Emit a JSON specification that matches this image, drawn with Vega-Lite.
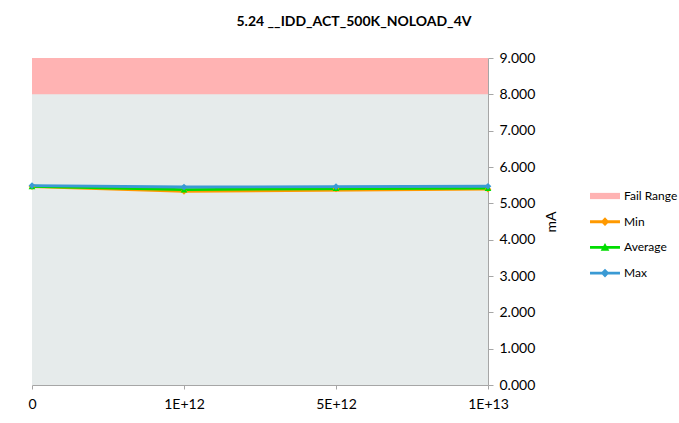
{
  "$schema": "https://vega.github.io/schema/vega-lite/v6.json",
  "autosize": "none",
  "width": 456,
  "height": 327,
  "padding": {"left": 32, "top": 58, "right": 191, "bottom": 38},
  "background": "white",
  "config": {
    "view": {"fill": "#E6EBEB", "stroke": null},
    "font": "Lato",
    "axis": {"labelFont": "Lato", "titleFont": "Lato", "labelColor": "#000", "titleColor": "#000", "domainColor": "#A6A6A6", "tickColor": "#A6A6A6", "grid": false},
    "legend": {"labelFont": "Lato", "labelColor": "#000", "labelFontSize": 12}
  },
  "title": {"text": "5.24 __IDD_ACT_500K_NOLOAD_4V", "fontSize": 14, "fontWeight": "bold", "font": "Lato", "color": "#000", "anchor": "middle", "dx": 94, "offset": 22},
  "datasets": {
    "fail": [{"lo": 8, "hi": 9, "name": "Fail Range"}],
    "series": [
      {"x": "0", "series": "Min", "v": 5.46},
      {"x": "1E+12", "series": "Min", "v": 5.33},
      {"x": "5E+12", "series": "Min", "v": 5.40},
      {"x": "1E+13", "series": "Min", "v": 5.39},
      {"x": "0", "series": "Average", "v": 5.47},
      {"x": "1E+12", "series": "Average", "v": 5.38},
      {"x": "5E+12", "series": "Average", "v": 5.42},
      {"x": "1E+13", "series": "Average", "v": 5.42},
      {"x": "0", "series": "Max", "v": 5.49},
      {"x": "1E+12", "series": "Max", "v": 5.45},
      {"x": "5E+12", "series": "Max", "v": 5.46},
      {"x": "1E+13", "series": "Max", "v": 5.47}
    ]
  },
  "layer": [
    {
      "data": {"name": "fail"},
      "mark": {"type": "rect"},
      "encoding": {
        "y": {"field": "lo", "type": "quantitative", "scale": {"domain": [0, 9]},
          "axis": {"orient": "right", "title": "mA", "titleAngle": 270, "titleFontSize": 14, "titleFontWeight": "normal", "titlePadding": 24, "format": ".3f", "values": [0,1,2,3,4,5,6,7,8,9], "labelFontSize": 14, "tickSize": 5, "labelPadding": 6}},
        "y2": {"field": "hi"},
        "color": {"datum": "Fail Range", "type": "nominal"}
      }
    },
    {
      "data": {"name": "series"},
      "mark": {"type": "line", "strokeWidth": 2.8, "point": {"size": 45, "filled": true}},
      "encoding": {
        "x": {"field": "x", "type": "ordinal", "sort": ["0", "1E+12", "5E+12", "1E+13"], "scale": {"type": "point", "padding": 0},
          "axis": {"title": null, "labelAngle": 0, "labelFontSize": 14, "labelPadding": 8, "tickSize": 4}},
        "y": {"field": "v", "type": "quantitative", "scale": {"domain": [0, 9]},
          "axis": {"orient": "right", "title": "mA", "titleAngle": 270, "titleFontSize": 14, "titleFontWeight": "normal", "titlePadding": 24, "format": ".3f", "values": [0,1,2,3,4,5,6,7,8,9], "labelFontSize": 14, "tickSize": 5, "labelPadding": 6}},
        "color": {"field": "series", "type": "nominal",
          "scale": {"domain": ["Fail Range", "Min", "Average", "Max"], "range": ["#FFB3B3", "#FF9900", "#00DD00", "#3A9AD4"]},
          "legend": {"title": null, "orient": "none", "legendX": 564, "legendY": 129, "rowPadding": 10.7, "labelOffset": 10, "symbolSize": 300,
            "encoding": {"symbols": {
              "shape": {"value": {"expr": "datum.value === 'Fail Range' ? 'M-1.73,-0.36H1.73V0.36H-1.73Z' : datum.value === 'Average' ? 'M-1.73,-0.17H1.73V0.17H-1.73Z M0,-0.5L0.5,0.4L-0.5,0.4Z' : 'M-1.73,-0.17H1.73V0.17H-1.73Z M0,-0.5L0.5,0L0,0.5L-0.5,0Z'"}},
              "fill": {"value": {"expr": "scale('color', datum.value)"}},
              "strokeWidth": {"value": 0},
              "opacity": {"value": 1},
              "fillOpacity": {"value": 1}
            }}}},
        "shape": {"field": "series", "type": "nominal",
          "scale": {"domain": ["Min", "Average", "Max"], "range": ["diamond", "triangle-up", "diamond"]},
          "legend": null},
        "order": {"field": "x"}
      }
    }
  ]
}
